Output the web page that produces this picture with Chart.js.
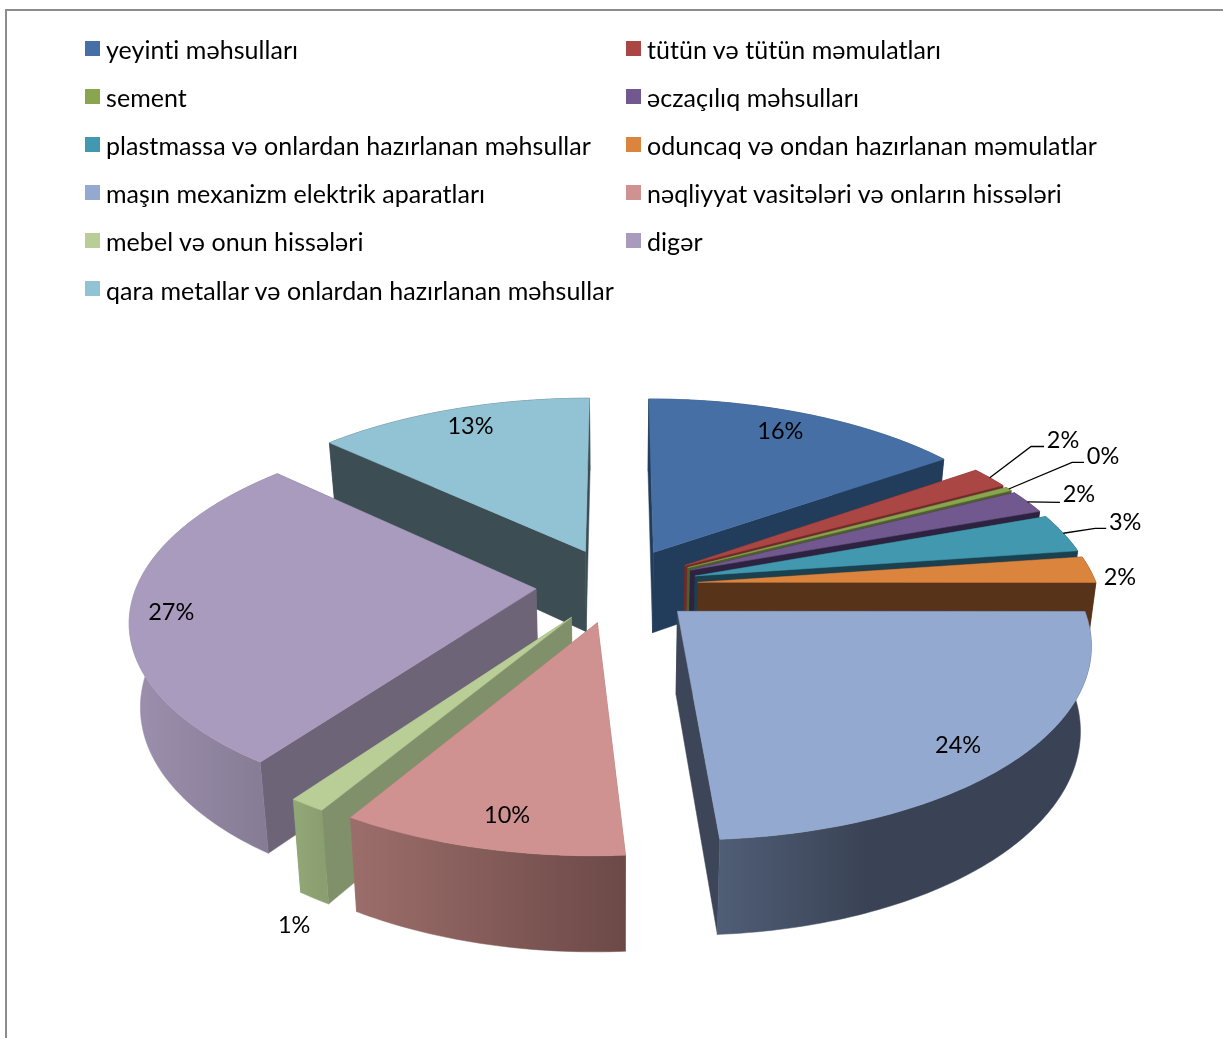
<!DOCTYPE html>
<html lang="az">
<head>
<meta charset="utf-8">
<title>Pie</title>
<script src="https://cdn.jsdelivr.net/npm/chart.js@4"></script>
<style>
	html, body { margin: 0; height: 100%; overflow: hidden; background: #fff; }
	#frame { position: absolute; left: 5px; top: 9px; width: 1400px; height: 1200px; border: 2px solid #8c8c8c; }
	#scoreChart { position: absolute; left: 0; top: 0; }
	#legend {
		position: absolute; left: 85px; top: 25px;
		display: grid; grid-template-columns: 541px auto; grid-auto-rows: 48.1px;
		font-family: Lato, sans-serif; font-size: 25px; letter-spacing: 0.05px; font-variant-ligatures: none; color: #000;
	}
	#legend div { display: flex; align-items: center; height: 48.1px; white-space: nowrap; }
	#legend i { display: inline-block; width: 15px; height: 15px; margin-right: 6px; position: relative; top: -1px; }
</style>
</head>
<body>
<div id="frame"></div>
<canvas id="scoreChart" width="1223" height="1038"></canvas>
<div id="legend"></div>
<script>
const categories = [
	"yeyinti məhsulları",
	"tütün və tütün məmulatları",
	"sement",
	"əczaçılıq məhsulları",
	"plastmassa və onlardan hazırlanan məhsullar",
	"oduncaq və ondan hazırlanan məmulatlar",
	"maşın mexanizm elektrik aparatları",
	"nəqliyyat vasitələri və onların hissələri",
	"mebel və onun hissələri",
	"digər",
	"qara metallar və onlardan hazırlanan məhsullar"
];
const shares = [15.25, 1.85, 0.36, 2, 3.3, 2.25, 23.95, 9.64, 1.25, 27.05, 13.1];
const percentLabels = ["16%", "2%", "0%", "2%", "3%", "2%", "24%", "10%", "1%", "27%", "13%"];

const topColors = ["#4670a5", "#aa4643", "#89a54e", "#71588f", "#4198af", "#db843d", "#93a9cf", "#d09290", "#b9cd96", "#a99bbd", "#92c3d4"];
const sideColors = ["#223c5b", "#6e2b29", "#4f5e2d", "#2d2340", "#1b4050", "#57331a", "#3d4659", "#9c6e6b", "#80906a", "#6e6478", "#3c4e54"];
const rimLeft = ["#223c5b", "#6e2b29", "#4f5e2d", "#2d2340", "#1b4050", "#57331a", "#4f5d76", "#9c6e6b", "#93a877", "#9c90ae", "#3c4e54"];
const rimRight = ["#223c5b", "#6e2b29", "#4f5e2d", "#2d2340", "#1b4050", "#57331a", "#3a4355", "#6c4947", "#8a9e70", "#857a93", "#3c4e54"];

// where each percent label sits: radius (1 = rim) and turn from the slice middle, degrees
const labelRadius = [0.873, 1.355, 1.375, 1.163, 1.193, 1.07, 0.865, 0.86, 1.364, 0.9, 0.885];
const labelTurn = [-2, -4.2, -2.8, 0, -1.8, 1.6, 2, -1.2, -10.6, -1, 0.9];
// leader line: length of the flat run next to the label, null = no leader
const leaderRun = [null, 13, 12, 0, 11, null, null, null, null, null, null];

// perspective of the pie plane on screen
const view = { cx: 617, cy: 585, rx: 399, ry: 185.5, persp: 0.15, shrink: 0.977, drop: 82, dropSlope: 0.052 };

function project(s, t, bottom) {
	const d = 1 - view.persp * t;
	let x = view.cx + view.rx * s / d;
	let y = view.cy + view.ry * t / d;
	if (bottom) {
		x = view.cx + (x - view.cx) * view.shrink;
		y = y + view.drop + (y - view.cy) * view.dropSlope;
	}
	return [x, y];
}

function tracePath(ctx, pts) {
	ctx.beginPath();
	pts.forEach((p, i) => i ? ctx.lineTo(p[0], p[1]) : ctx.moveTo(p[0], p[1]));
	ctx.closePath();
}

function fillPath(ctx, pts, fill) {
	tracePath(ctx, pts);
	ctx.fillStyle = fill;
	ctx.strokeStyle = fill;
	ctx.lineWidth = 0.5;
	ctx.fill();
	ctx.stroke();
}

// unit-circle geometry of an arc element, exploded by its own offset option
function sliceGeometry(arc) {
	const r = arc.outerRadius;
	const mid = (arc.startAngle + arc.endAngle) / 2;
	const push = arc.options.offset / 4 / r;
	return { mid, ox: Math.cos(mid) * push, oy: Math.sin(mid) * push, start: arc.startAngle, end: arc.endAngle };
}

const pie3d = {
	id: "pie3d",
	beforeDatasetsDraw(chart) {
		const ctx = chart.ctx;
		const arcs = chart.getDatasetMeta(0).data;
		const geo = arcs.map(sliceGeometry);
		const order = arcs.map((a, i) => i).sort((a, b) => geo[a].oy - geo[b].oy);

		order.forEach(i => {
			const g = geo[i];
			const steps = Math.max(4, Math.ceil((g.end - g.start) * 60));
			const rimTop = [], rimBottom = [];
			for (let k = 0; k <= steps; k++) {
				const a = g.start + (g.end - g.start) * k / steps;
				rimTop.push(project(g.ox + Math.cos(a), g.oy + Math.sin(a), false));
				rimBottom.push(project(g.ox + Math.cos(a), g.oy + Math.sin(a), true));
			}
			const apexTop = project(g.ox, g.oy, false);
			const apexBottom = project(g.ox, g.oy, true);

			const xs = rimTop.map(p => p[0]);
			const grad = ctx.createLinearGradient(Math.min(...xs), 0, Math.max(...xs), 0);
			grad.addColorStop(0, rimLeft[i]);
			grad.addColorStop(i === 6 ? 0.4 : 1, rimRight[i]);
			grad.addColorStop(1, rimRight[i]);

			fillPath(ctx, [apexTop, rimTop[0], rimBottom[0], apexBottom], sideColors[i]);
			fillPath(ctx, [apexTop, rimTop[steps], rimBottom[steps], apexBottom], sideColors[i]);
			fillPath(ctx, rimTop.concat(rimBottom.slice().reverse()), grad);
			fillPath(ctx, [apexTop].concat(rimTop), topColors[i]);
		});
		return false;
	},
	afterDraw(chart) {
		const ctx = chart.ctx;
		const arcs = chart.getDatasetMeta(0).data;
		ctx.save();
		ctx.font = "23.5px Lato, sans-serif";
		ctx.textAlign = "center";
		ctx.textBaseline = "middle";
		arcs.forEach((arc, i) => {
			const g = sliceGeometry(arc);
			const a = g.mid + labelTurn[i] * Math.PI / 180;
			const [lx, ly] = project(g.ox + Math.cos(a) * labelRadius[i], g.oy + Math.sin(a) * labelRadius[i], false);
			if (leaderRun[i] !== null) {
				const from = project(g.ox + Math.cos(g.mid), g.oy + Math.sin(g.mid), false);
				const flat = leaderRun[i] ? 6 : 8;
				ctx.beginPath();
				ctx.moveTo(from[0], from[1]);
				ctx.lineTo(lx - 19 - leaderRun[i], ly + flat + 3);
				ctx.lineTo(lx - 19, ly + flat + 3);
				ctx.strokeStyle = "#000";
				ctx.lineWidth = 1.3;
				ctx.stroke();
			}
			ctx.fillStyle = "#000";
			ctx.fillText(percentLabels[i], lx, ly + 3);
		});
		ctx.restore();
	}
};

document.addEventListener("DOMContentLoaded", function () {
	const legend = document.getElementById("legend");
	categories.forEach((name, i) => {
		const row = document.createElement("div");
		const box = document.createElement("i");
		box.style.background = topColors[i];
		row.appendChild(box);
		row.appendChild(document.createTextNode(name));
		legend.appendChild(row);
	});

	const ctx = document.getElementById("scoreChart").getContext("2d");
	new Chart(ctx, {
		type: "pie",
		data: {
			labels: categories,
			datasets: [{
				data: shares,
				backgroundColor: topColors,
				borderWidth: 0,
				offset: 300
			}]
		},
		options: {
			responsive: false,
			animation: false,
			layout: { padding: 0 },
			plugins: {
				legend: { display: false },
				tooltip: { enabled: false }
			}
		},
		plugins: [pie3d]
	});
});
</script>
</body>
</html>
